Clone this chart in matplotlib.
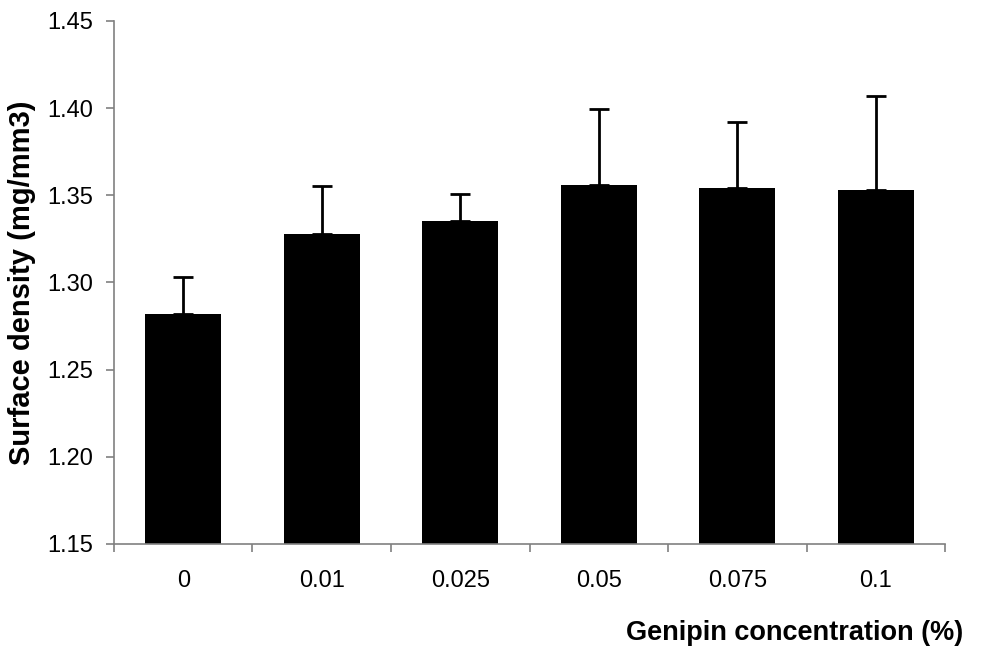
import numpy as np
import matplotlib.pyplot as plt

plt.rcParams['font.family'] = ['Liberation Sans', 'DejaVu Sans']

# Datos
conc_labels = ['0', '0.01', '0.025', '0.05', '0.075', '0.1']
density = [1.282, 1.328, 1.335, 1.356, 1.354, 1.353]
density_err = [0.021, 0.0276, 0.016, 0.0436, 0.038, 0.0537]

fig = plt.figure(figsize=(9.97, 6.48), dpi=100, facecolor='white')
ax = fig.add_axes([0.1143, 0.1605, 0.8337, 0.8071])

x = np.arange(len(conc_labels))
ax.bar(x, density, width=0.55, color='black', zorder=2)
ax.errorbar(x, density, yerr=[np.zeros(len(density)), density_err], fmt='none',
            ecolor='black', elinewidth=2, capsize=7.5, capthick=2, zorder=3)

ax.set_xlim(-0.5, len(conc_labels) - 0.5)
ax.set_ylim(1.15, 1.45)
ax.set_yticks(np.arange(1.15, 1.4501, 0.05))
ax.set_yticklabels([f'{v:.2f}' for v in np.arange(1.15, 1.4501, 0.05)])

# Ticks del eje x en los limites de categoria
ax.set_xticks(x)
ax.set_xticklabels(conc_labels)
ax.set_xticks(np.arange(-0.5, len(conc_labels)), minor=True)
ax.tick_params(axis='x', which='major', length=0, pad=19, labelsize=17)
ax.tick_params(axis='x', which='minor', length=6, width=1.2, color='#808080')
ax.tick_params(axis='y', length=6, width=1.2, color='#808080', pad=9, labelsize=17)

for side in ['top', 'right']:
    ax.spines[side].set_visible(False)
for side in ['left', 'bottom']:
    ax.spines[side].set_color('#808080')
    ax.spines[side].set_linewidth(1.2)

ax.set_ylabel('Surface density (mg/mm3)', fontsize=21, fontweight='bold', labelpad=8)
fig.text(963 / 997, 1 - 633 / 648, 'Genipin concentration (%)', fontsize=19.5,
         fontweight='bold', ha='right', va='center')

plt.savefig('out.png', dpi=100, facecolor='white')
plt.close()
